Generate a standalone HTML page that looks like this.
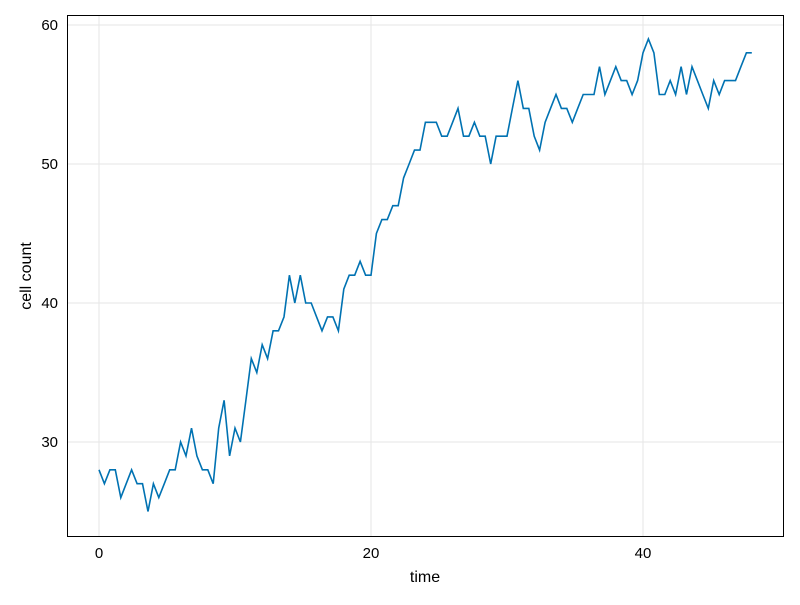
<!DOCTYPE html>
<html><head><meta charset="utf-8"><style>
body{margin:0;background:#fff}
svg text{font-family:"Liberation Sans",sans-serif;fill:#000}
</style></head><body>
<svg id="chart" width="800" height="600">
<g id="grid"></g><g id="plot"></g><g id="ticks"></g>
<rect x="67.5" y="15.5" width="716" height="521" fill="none" stroke="#000" stroke-width="1"/>
<text x="425" y="582" font-size="16" text-anchor="middle">time</text>
<text transform="translate(31,276) rotate(-90)" font-size="16" text-anchor="middle">cell count</text>
</svg>
<script>
const xTicks=[0,20,40];
const yTicks=[30,40,50,60];
const timeStep=0.4;
const cellCount=[28,27,28,28,26,27,28,27,27,25,27,26,27,28,28,30,29,31,29,28,28,27,31,33,29,31,30,33,36,35,37,36,38,38,39,42,40,42,40,40,39,38,39,39,38,41,42,42,43,42,42,45,46,46,47,47,49,50,51,51,53,53,53,52,52,53,54,52,52,53,52,52,50,52,52,52,54,56,54,54,52,51,53,54,55,54,54,53,54,55,55,55,57,55,56,57,56,56,55,56,58,59,58,55,55,56,55,57,55,57,56,55,54,56,55,56,56,56,57,58,58];
const xs=t=>99+t*13.6;
const ys=v=>442-(v-30)*13.9;
const NS="http://www.w3.org/2000/svg";
const grid=document.getElementById('grid'),ticks=document.getElementById('ticks'),plot=document.getElementById('plot');
xTicks.forEach(t=>{
 const l=document.createElementNS(NS,'line');
 l.setAttribute('x1',xs(t));l.setAttribute('x2',xs(t));l.setAttribute('y1',16);l.setAttribute('y2',536);
 l.setAttribute('stroke','#e6e6e6');
 
 
 grid.appendChild(l);
 const tx=document.createElementNS(NS,'text');
 tx.setAttribute('x',xs(t));tx.setAttribute('y',558);tx.setAttribute('font-size','15');tx.setAttribute('text-anchor','middle');
 tx.textContent=t;
 
 
 ticks.appendChild(tx);
});
yTicks.forEach(v=>{
 const l=document.createElementNS(NS,'line');
 l.setAttribute('x1',68);l.setAttribute('x2',783);l.setAttribute('y1',ys(v));l.setAttribute('y2',ys(v));
 l.setAttribute('stroke','#e6e6e6');
 
 
 grid.appendChild(l);
 const tx=document.createElementNS(NS,'text');
 tx.setAttribute('x',58);tx.setAttribute('y',ys(v)+5);tx.setAttribute('font-size','15');tx.setAttribute('text-anchor','end');
 tx.textContent=v;
 
 
 ticks.appendChild(tx);
});
const pts=cellCount.map((v,i)=>xs(i*timeStep).toFixed(1)+','+ys(v).toFixed(1)).join(' ');
const pl=document.createElementNS(NS,'polyline');
pl.setAttribute('points',pts);pl.setAttribute('fill','none');pl.setAttribute('stroke','#0072b2');pl.setAttribute('stroke-width','1.6');


plot.appendChild(pl);
</script>
</body></html>
